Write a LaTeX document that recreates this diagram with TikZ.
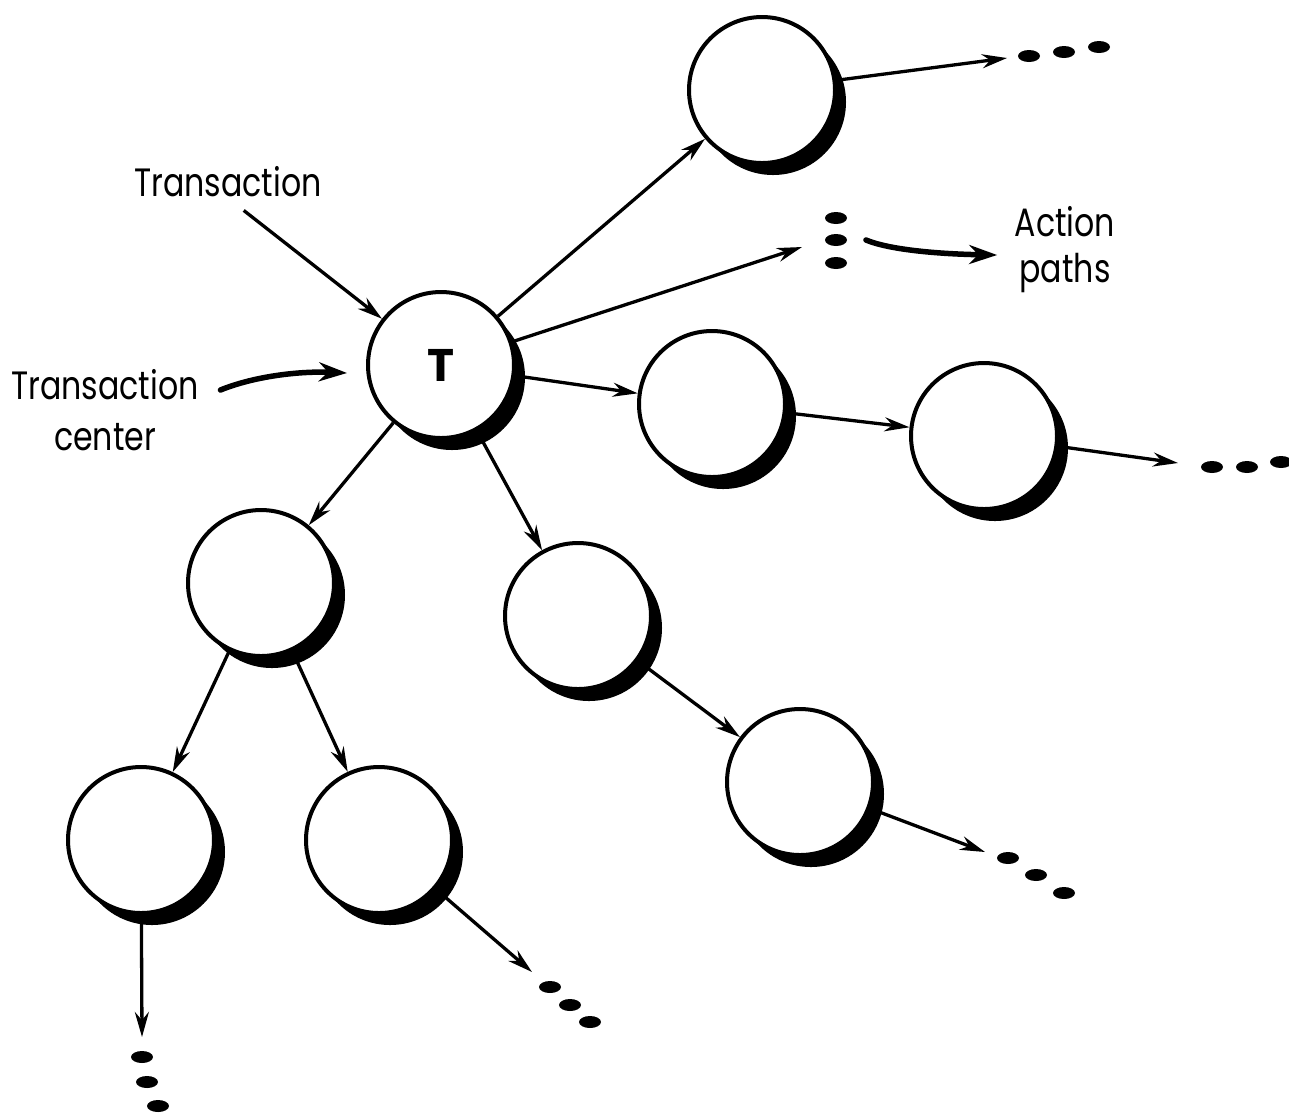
\documentclass[tikz,border=0pt]{standalone}
\usepackage{fontspec}
\setmainfont{Poppins}
\usetikzlibrary{arrows.meta,shadows}

\tikzset{
  state/.style={circle, draw, line width=0.4mm, fill=white, minimum size=14.6mm, inner sep=0,
    drop shadow={shadow xshift=1.1mm, shadow yshift=-1.2mm, fill=black, opacity=1}},
  arr/.style={line width=0.33mm, -{Stealth[length=2.5mm,width=1.4mm]}},
  bigarr/.style={line width=0.55mm, line cap=round, -{Stealth[length=2.8mm,width=1.9mm]}},
  lbl/.style={font=\fontsize{9}{11.5}\selectfont, align=center, inner sep=0, yscale=1.25, transform shape}
}

\begin{document}
\begin{tikzpicture}[x=0.1mm, y=-0.1mm]
			%%%%% START %%%%%
			\useasboundingbox (0,0) rectangle (1289,1115);
			
			\node[state, font=\bfseries\fontsize{13}{13}\selectfont] (T) at (441,365) {T};
			\node[state] (A) at (762,90) {};
			\node[state] (B) at (712,404) {};
			\node[state] (C) at (984,436) {};
			\node[state] (D) at (261,583) {};
			\node[state] (E) at (578,616) {};
			\node[state] (F) at (800,782) {};
			\node[state] (G) at (141,840) {};
			\node[state] (H) at (379,840) {};
			
			\node[lbl] (trans) at (228,182) {Transaction};
			\node[lbl] (tc) at (105,410) {Transaction\\center};
			\node[lbl, font=\fontsize{9}{10.5}\selectfont] (act) at (1065,250) {Action\\paths};
			
			\coordinate (atip) at (1007,58);
			\coordinate (ptip) at (802,247);
			\coordinate (ctip) at (1178,463);
			\coordinate (ftip) at (985,852);
			\coordinate (htip) at (532,972);
			\coordinate (gtip) at (142,1037);
			\coordinate (tcto) at (347,373);
			\coordinate (actfrom) at (866,240);
			
			\draw[arr, shorten <=2mm] (trans.south) -- (T);
			\draw[arr] (T) -- (A);
			\draw[arr] (T) -- (ptip);
			\draw[arr] (T) -- (B);
			\draw[arr] (T) -- (D);
			\draw[arr] (T) -- (E);
			
			\draw[arr] (A) -- (atip);
			\draw[arr] (B) -- (C);
			\draw[arr] (C) -- (ctip);
			\draw[arr] (D) -- (G);
			\draw[arr] (D) -- (H);
			\draw[arr] (E) -- (F);
			\draw[arr] (F) -- (ftip);
			\draw[arr] (H) -- (htip);
			\draw[arr] (G) -- (gtip);
			
			\draw[bigarr] ([xshift=2.1mm,yshift=2mm]tc.east) .. controls (255,376) and (300,371) .. (tcto);
			\draw[bigarr] (actfrom) .. controls (890,250) and (940,254) .. ([xshift=-1.7mm,yshift=-0.5mm]act.west);
			
			% dots
			\foreach \x/\y in {1029/56, 1064/52, 1099/47, 836/218, 836/240, 836/263,
				1212/467, 1247/467, 1281/462, 1008/858, 1036/875, 1064/893,
				550/987, 570/1005, 590/1022, 142/1057, 147/1082, 158/1106}
				\fill (\x,\y) ellipse (1.1mm and 0.6mm);
			
			%%%%% END %%%%%
\end{tikzpicture}
\end{document}
